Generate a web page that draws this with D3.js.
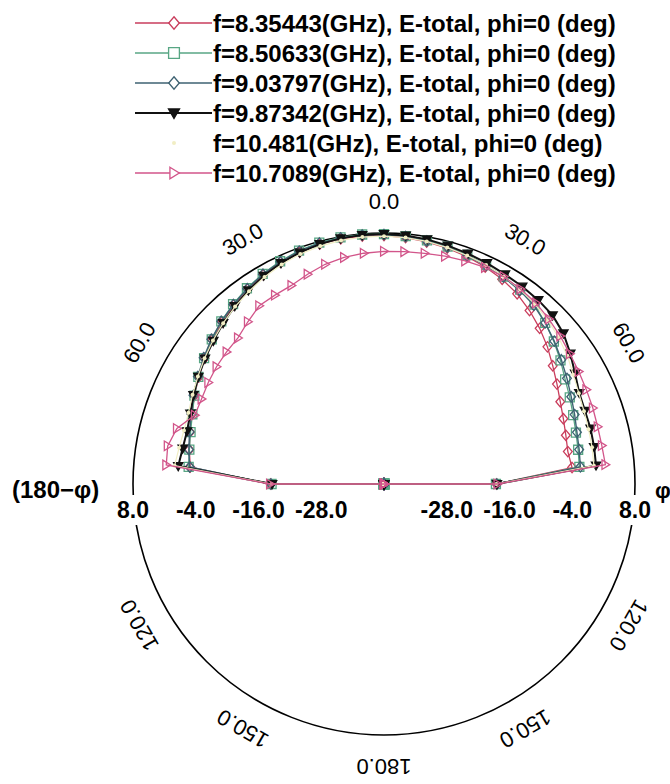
<!DOCTYPE html>
<html>
<head>
<meta charset="utf-8">
<script src="https://cdn.jsdelivr.net/npm/d3@7"></script>
<style>
  body { margin: 0; background: #fff; }
  svg { display: block; }
</style>
</head>
<body>
<svg id="chart" width="670" height="784"></svg>
<script>
// Theta sweep in degrees (0 = broadside, positive = clockwise / right side)
const theta = [
  -180,-175,-170,-165,-160,-155,-150,-145,-140,-135,-130,-125,-120,-115,-110,-105,-100,-95,
  -90,-85,-80,-75,-70,-65,-60,-55,-50,-45,-40,-35,-30,-25,-20,-15,-10,-5,
  0,5,10,15,20,25,30,35,40,45,50,55,60,65,70,75,80,85,90,
  95,100,105,110,115,120,125,130,135,140,145,150,155,160,165,170,175,180
];

const seriesNames = [
  "f=8.35443(GHz), E-total, phi=0 (deg)",
  "f=8.50633(GHz), E-total, phi=0 (deg)",
  "f=9.03797(GHz), E-total, phi=0 (deg)",
  "f=9.87342(GHz), E-total, phi=0 (deg)",
  "f=10.481(GHz), E-total, phi=0 (deg)",
  "f=10.7089(GHz), E-total, phi=0 (deg)"
];

// E-total in dB for each frequency (back hemisphere sits at the -40 dB floor)
const eTotal8354 = [
  -40,-40,-40,-40,-40,-40,-40,-40,-40,-40,-40,-40,-40,-40,-40,-40,-40,-40,
  -18.3,-2.8,-2.2,-1.6,-0.9,0.0,0.9,1.9,2.9,3.8,4.7,5.5,6.2,6.8,7.2,7.5,7.6,7.6,
  7.5,7.3,7.0,6.7,6.3,5.8,5.2,4.4,3.3,2.1,0.8,-0.6,-1.8,-2.8,-3.5,-4.0,-4.3,-3.9,-18.5,
  -40,-40,-40,-40,-40,-40,-40,-40,-40,-40,-40,-40,-40,-40,-40,-40,-40,-40
];
const eTotal8506 = [
  -40,-40,-40,-40,-40,-40,-40,-40,-40,-40,-40,-40,-40,-40,-40,-40,-40,-40,
  -18.5,-2.5,-2.2,-1.7,-1.0,0.0,1.0,2.0,3.0,4.0,4.9,5.7,6.4,7.0,7.5,7.8,7.9,7.9,
  7.8,7.6,7.3,7.0,6.6,6.2,5.8,5.4,4.8,3.6,2.4,1.2,0.0,-0.8,-1.5,-2.0,-2.3,-2.5,-18.6,
  -40,-40,-40,-40,-40,-40,-40,-40,-40,-40,-40,-40,-40,-40,-40,-40,-40,-40
];
const eTotal9038 = [
  -40,-40,-40,-40,-40,-40,-40,-40,-40,-40,-40,-40,-40,-40,-40,-40,-40,-40,
  -18.4,-2.7,-2.1,-1.5,-0.8,0.2,1.1,2.1,3.1,4.0,4.8,5.6,6.3,6.9,7.4,7.7,7.8,7.8,
  7.7,7.5,7.2,6.9,6.5,6.1,5.7,5.2,4.6,3.6,2.5,1.4,0.4,-0.5,-1.2,-1.8,-2.1,-2.3,-18.4,
  -40,-40,-40,-40,-40,-40,-40,-40,-40,-40,-40,-40,-40,-40,-40,-40,-40,-40
];
const eTotal9873 = [
  -40,-40,-40,-40,-40,-40,-40,-40,-40,-40,-40,-40,-40,-40,-40,-40,-40,-40,
  -18.6,-0.5,-0.9,-1.0,-0.6,0.2,1.0,1.8,2.6,3.5,4.4,5.2,6.0,6.6,7.1,7.5,7.7,7.8,
  7.8,7.7,7.5,7.2,6.9,6.6,6.3,6.1,5.9,5.6,4.8,3.5,2.2,1.2,0.9,0.9,0.8,0.7,-18.4,
  -40,-40,-40,-40,-40,-40,-40,-40,-40,-40,-40,-40,-40,-40,-40,-40,-40,-40
];
const eTotal10481 = [
  -40,-40,-40,-40,-40,-40,-40,-40,-40,-40,-40,-40,-40,-40,-40,-40,-40,-40,
  -18.5,0.2,-0.2,-0.4,-0.2,0.4,1.1,1.9,2.7,3.5,4.3,5.0,5.7,6.3,6.8,7.1,7.3,7.4,
  7.4,7.3,7.1,6.8,6.5,6.2,5.8,5.4,4.9,4.3,3.6,2.8,1.8,1.1,0.7,0.5,0.4,0.3,-18.5,
  -40,-40,-40,-40,-40,-40,-40,-40,-40,-40,-40,-40,-40,-40,-40,-40,-40,-40
];
const eTotal10709 = [
  -40,-40,-40,-40,-40,-40,-40,-40,-40,-40,-40,-40,-40,-40,-40,-40,-40,-40,
  -18.2,1.8,2.0,1.0,-1.5,-1.5,-1.2,-0.9,-0.7,-0.5,0.5,1.6,1.7,1.9,2.7,3.5,4.0,4.3,
  4.5,4.6,4.8,5.1,5.4,5.7,5.8,5.5,5.2,4.6,4.0,3.4,3.0,2.7,2.5,2.3,2.3,2.5,-18.3,
  -40,-40,-40,-40,-40,-40,-40,-40,-40,-40,-40,-40,-40,-40,-40,-40,-40,-40
];

const radialTicks = [8, -4, -16, -28];
const angleTicks = [0, 30, 60, 120, 150, 180];

const seriesValues = [eTotal8354, eTotal8506, eTotal9038, eTotal9873, eTotal10481, eTotal10709];
const colors = ["#c93d5c", "#58a684", "#3e6272", "#111111", "#f1eec4", "#d2558a"];
const markerKinds = ["diamond", "square", "diamond", "triDown", "none", "triRight"];
const lineWidths = [1.3, 1.3, 1.4, 2.0, 1.2, 1.3];

const cx = 384, cy = 484, R = 251;

const svg = d3.select("#chart");
const r = d3.scaleLinear().domain([-40, 8]).range([0, R]).clamp(true);
const toRad = d => d * Math.PI / 180;

const markerPath = {
  diamond: "M0,-5.2L4.4,0L0,5.2L-4.4,0Z",
  square: "M-4.5,-4.5H4.5V4.5H-4.5Z",
  triDown: "M-4.6,-3.4L4.6,-3.4L0,4.6Z",
  triRight: "M-3.4,-4.8L4.4,0L-3.4,4.8Z",
  none: ""
};

// Outer grid circle
const g = svg.append("g").attr("transform", `translate(${cx},${cy})`);
g.append("circle")
  .attr("r", r(8))
  .attr("fill", "none")
  .attr("stroke", "#000")
  .attr("stroke-width", 1.6);

// Radial tick labels along the horizontal diameter (both sides)
const fontBase = "'Liberation Sans', Arial, Helvetica, sans-serif";
radialTicks.forEach(v => {
  [-1, 1].forEach(side => {
    const x = side * r(v);
    const txt = g.append("text")
      .attr("x", x)
      .attr("y", 34)
      .attr("text-anchor", "middle")
      .attr("font-family", fontBase)
      .attr("font-weight", "bold")
      .attr("font-size", 23)
      .attr("fill", "#000")
      .text(v.toFixed(1));
    if (v === 8) {
      const bb = txt.node().getBBox();
      g.insert("rect", "text")
        .attr("x", bb.x - 2).attr("y", bb.y - 2)
        .attr("width", bb.width + 4).attr("height", bb.height + 4)
        .attr("fill", "#fff");
    }
  });
});

// Angle labels placed tangentially around the circle
const angleLabelPositions = [];
angleTicks.forEach(a => {
  angleLabelPositions.push(a);
  if (a !== 0 && a !== 180) angleLabelPositions.push(-a);
});
angleLabelPositions.forEach(a => {
  g.append("text")
    .attr("transform", `rotate(${a}) translate(0,${-(R + 24)})`)
    .attr("text-anchor", "middle")
    .attr("font-family", fontBase)
    .attr("font-size", 22)
    .attr("fill", "#000")
    .text(Math.abs(a).toFixed(1));
});

// Side titles
svg.append("text")
  .attr("x", 12).attr("y", 498)
  .attr("font-family", fontBase).attr("font-weight", "bold").attr("font-size", 24)
  .text("(180\u2212\u03c6)");
svg.append("text")
  .attr("x", 655).attr("y", 498)
  .attr("font-family", fontBase).attr("font-weight", "bold").attr("font-size", 22)
  .text("\u03c6");

// Pattern traces
const radialLine = d3.lineRadial()
  .angle(d => toRad(d.t))
  .radius(d => r(d.v));

seriesValues.forEach((vals, i) => {
  const pts = theta.map((t, k) => ({ t, v: vals[k] }));
  const sg = g.append("g");
  sg.append("path")
    .datum(pts)
    .attr("d", radialLine)
    .attr("fill", "none")
    .attr("stroke", colors[i])
    .attr("stroke-width", lineWidths[i]);
  if (markerKinds[i] !== "none") {
    sg.selectAll("path.mk")
      .data(pts)
      .join("path")
      .attr("class", "mk")
      .attr("d", markerPath[markerKinds[i]])
      .attr("transform", d => {
        const rr = r(d.v), a = toRad(d.t);
        return `translate(${rr * Math.sin(a)},${-rr * Math.cos(a)})`;
      })
      .attr("fill", markerKinds[i] === "triDown" ? colors[i] : "none")
      .attr("stroke", colors[i])
      .attr("stroke-width", 1.3);
  } else {
    sg.selectAll("circle.mk")
      .data(pts)
      .join("circle")
      .attr("class", "mk")
      .attr("r", 2)
      .attr("cx", d => r(d.v) * Math.sin(toRad(d.t)))
      .attr("cy", d => -r(d.v) * Math.cos(toRad(d.t)))
      .attr("fill", colors[i]);
  }
});

// Legend
const legend = svg.append("g");
seriesNames.forEach((name, i) => {
  const y = 23 + 30 * i;
  const row = legend.append("g");
  if (markerKinds[i] !== "none") {
    row.append("line")
      .attr("x1", 135).attr("x2", 212)
      .attr("y1", y).attr("y2", y)
      .attr("stroke", colors[i])
      .attr("stroke-width", lineWidths[i]);
    row.append("path")
      .attr("d", markerPath[markerKinds[i]])
      .attr("transform", `translate(174,${y}) scale(1.2)`)
      .attr("fill", markerKinds[i] === "triDown" ? colors[i] : "#fff")
      .attr("stroke", colors[i])
      .attr("stroke-width", 1.1);
  } else {
    row.append("circle")
      .attr("cx", 174).attr("cy", y).attr("r", 2)
      .attr("fill", colors[i]);
  }
  row.append("text")
    .attr("x", 213).attr("y", y + 9)
    .attr("font-family", fontBase)
    .attr("font-weight", "bold")
    .attr("font-size", 24)
    .attr("fill", "#000")
    .text(name);
});
</script>
</body>
</html>
